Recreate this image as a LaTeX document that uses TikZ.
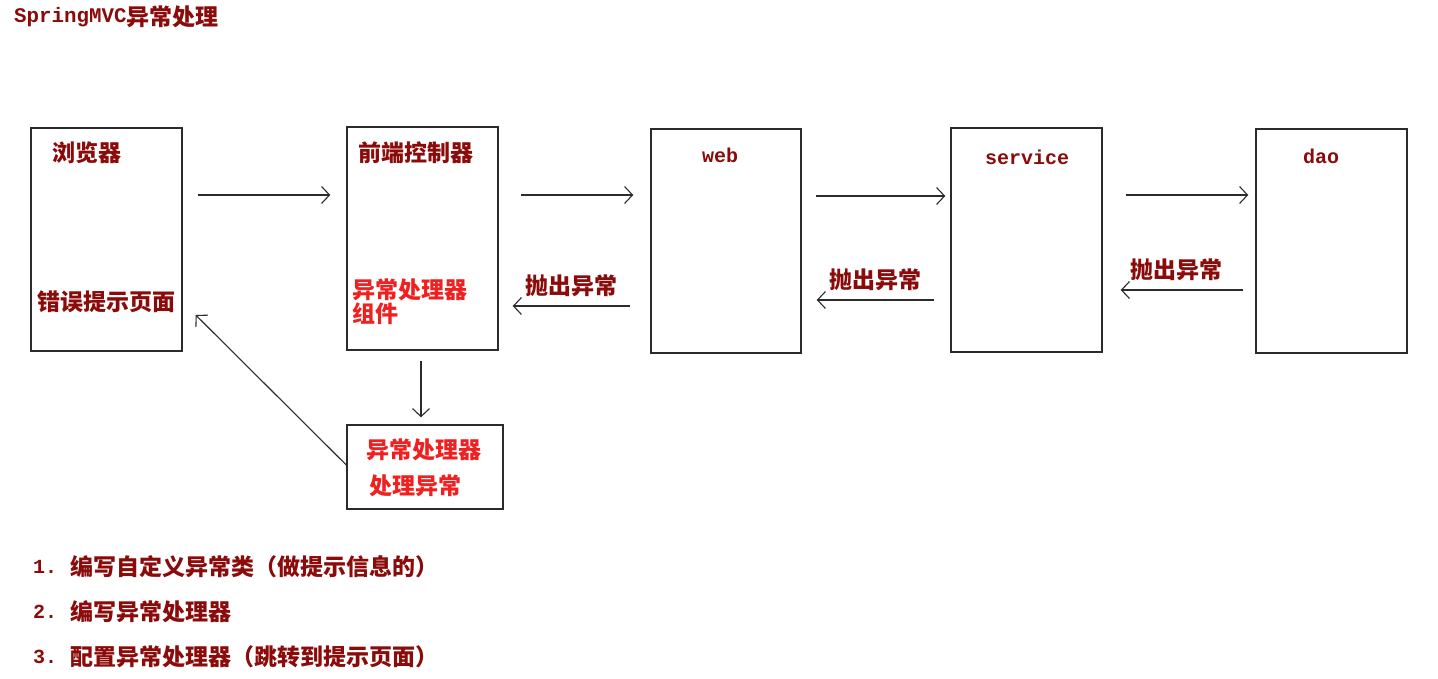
\documentclass[tikz,border=0pt]{standalone}
\usepackage{fontspec}
\newfontfamily\cjk{Noto Sans CJK SC}
\newfontfamily\mono{Liberation Mono}
\usetikzlibrary{arrows.meta}
\definecolor{dred}{HTML}{8B0A0A}
\definecolor{bred}{HTML}{F02020}
\definecolor{edge}{HTML}{2B2B2B}
\begin{document}
\begin{tikzpicture}[x=1pt,y=-1pt,
  box/.style={draw=edge,line width=1.4pt,inner sep=0pt,fill=white},
  arr/.style={draw=edge,line width=1.1pt,-{Straight Barb[length=8pt,width=17pt,line width=1.1pt]}},
  cjkd/.style={font=\cjk\bfseries\fontsize{23}{21}\selectfont,text=dred,inner sep=0pt},
  cjkr/.style={font=\cjk\bfseries\fontsize{23}{21}\selectfont,text=bred,inner sep=0pt},
  monod/.style={font=\mono\bfseries\fontsize{20}{20}\selectfont,text=dred,inner sep=0pt},
  lbl/.style={cjkd,above=9pt,midway}
]
\useasboundingbox (0,0) rectangle (1438,679);
\fill[white] (0,0) rectangle (1438,679);

% title
\node[anchor=base west,inner sep=0pt,text=dred] (title) at (14,25.5)
  {\raisebox{3pt}{\mono\bfseries\fontsize{20.8}{20}\selectfont SpringMVC}{\cjk\bfseries\fontsize{23}{23}\selectfont 异常处理}};

% boxes
\node[box,minimum width=151pt,minimum height=223pt] (b)   at (106.5,239.5) {};
\node[box,minimum width=151pt,minimum height=223pt] (fc)  at (422.5,238.5) {};
\node[box,minimum width=150pt,minimum height=224pt] (web) at (726,241) {};
\node[box,minimum width=151pt,minimum height=224pt] (svc) at (1026.5,240) {};
\node[box,minimum width=151pt,minimum height=224pt] (dao) at (1331.5,241) {};
\node[box,minimum width=156pt,minimum height=84pt]  (h)   at (425,467) {};

% box texts
\node[cjkd] (tb1) at (87,153) {浏览器};
\node[cjkd] (tb2) at (106,302) {错误提示页面};
\node[cjkd] (tfc) at (416,153) {前端控制器};
\node[cjkr,anchor=north west,align=left] (tfc2) at (352,279) {异常处理器\\组件};
\node[monod] (tweb) at (720,155.5) {web};
\node[monod] (tsvc) at (1027,157) {service};
\node[monod] (tdao) at (1321,156) {dao};
\node[cjkr] (th1) at (424,450) {异常处理器};
\node[cjkr] (th2) at (415,486) {处理异常};

% forward arrows
\draw[arr] ([shift={(15,-44.5)}]b.east) -- ([shift={(-16,-43.5)}]fc.west);
\draw[arr] ([shift={(22,-43.5)}]fc.east) -- ([shift={(-17,-46)}]web.west);
\draw[arr] ([shift={(14,-45)}]web.east) -- ([shift={(-5,-44)}]svc.west);
\draw[arr] ([shift={(23,-45)}]svc.east) -- ([shift={(-7,-46)}]dao.west);

% return arrows
\draw[arr] ([shift={(-20,65)}]web.west) -- node[lbl] (l1) {抛出异常} ([shift={(14,67.5)}]fc.east);
\draw[arr] ([shift={(-16,60)}]svc.west) -- node[lbl] (l2) {抛出异常} ([shift={(15,59)}]web.east);
\draw[arr] ([shift={(-12,49)}]dao.west) -- node[lbl,xshift=-6pt] (l3) {抛出异常} ([shift={(18,50)}]svc.east);

% handler arrows
\draw[arr] ([shift={(-1.5,10)}]fc.south) -- ([shift={(-4,-7)}]h.north);
\draw[arr] ([shift={(0,-2)}]h.west) -- ([shift={(13,75.5)}]b.east);

% list
\node[anchor=base west,inner sep=0pt,text=dred] (s1) at (33,575)
  {\raisebox{2pt}{\mono\bfseries\fontsize{20}{20}\selectfont 1.}\hspace{13pt}{\cjk\bfseries\fontsize{23}{23}\selectfont 编写自定义异常类（做提示信息的）}};
\node[anchor=base west,inner sep=0pt,text=dred] (s2) at (33,620)
  {\raisebox{2pt}{\mono\bfseries\fontsize{20}{20}\selectfont 2.}\hspace{13pt}{\cjk\bfseries\fontsize{23}{23}\selectfont 编写异常处理器}};
\node[anchor=base west,inner sep=0pt,text=dred] (s3) at (33,665)
  {\raisebox{2pt}{\mono\bfseries\fontsize{20}{20}\selectfont 3.}\hspace{13pt}{\cjk\bfseries\fontsize{23}{23}\selectfont 配置异常处理器（跳转到提示页面）}};
\end{tikzpicture}
\end{document}
